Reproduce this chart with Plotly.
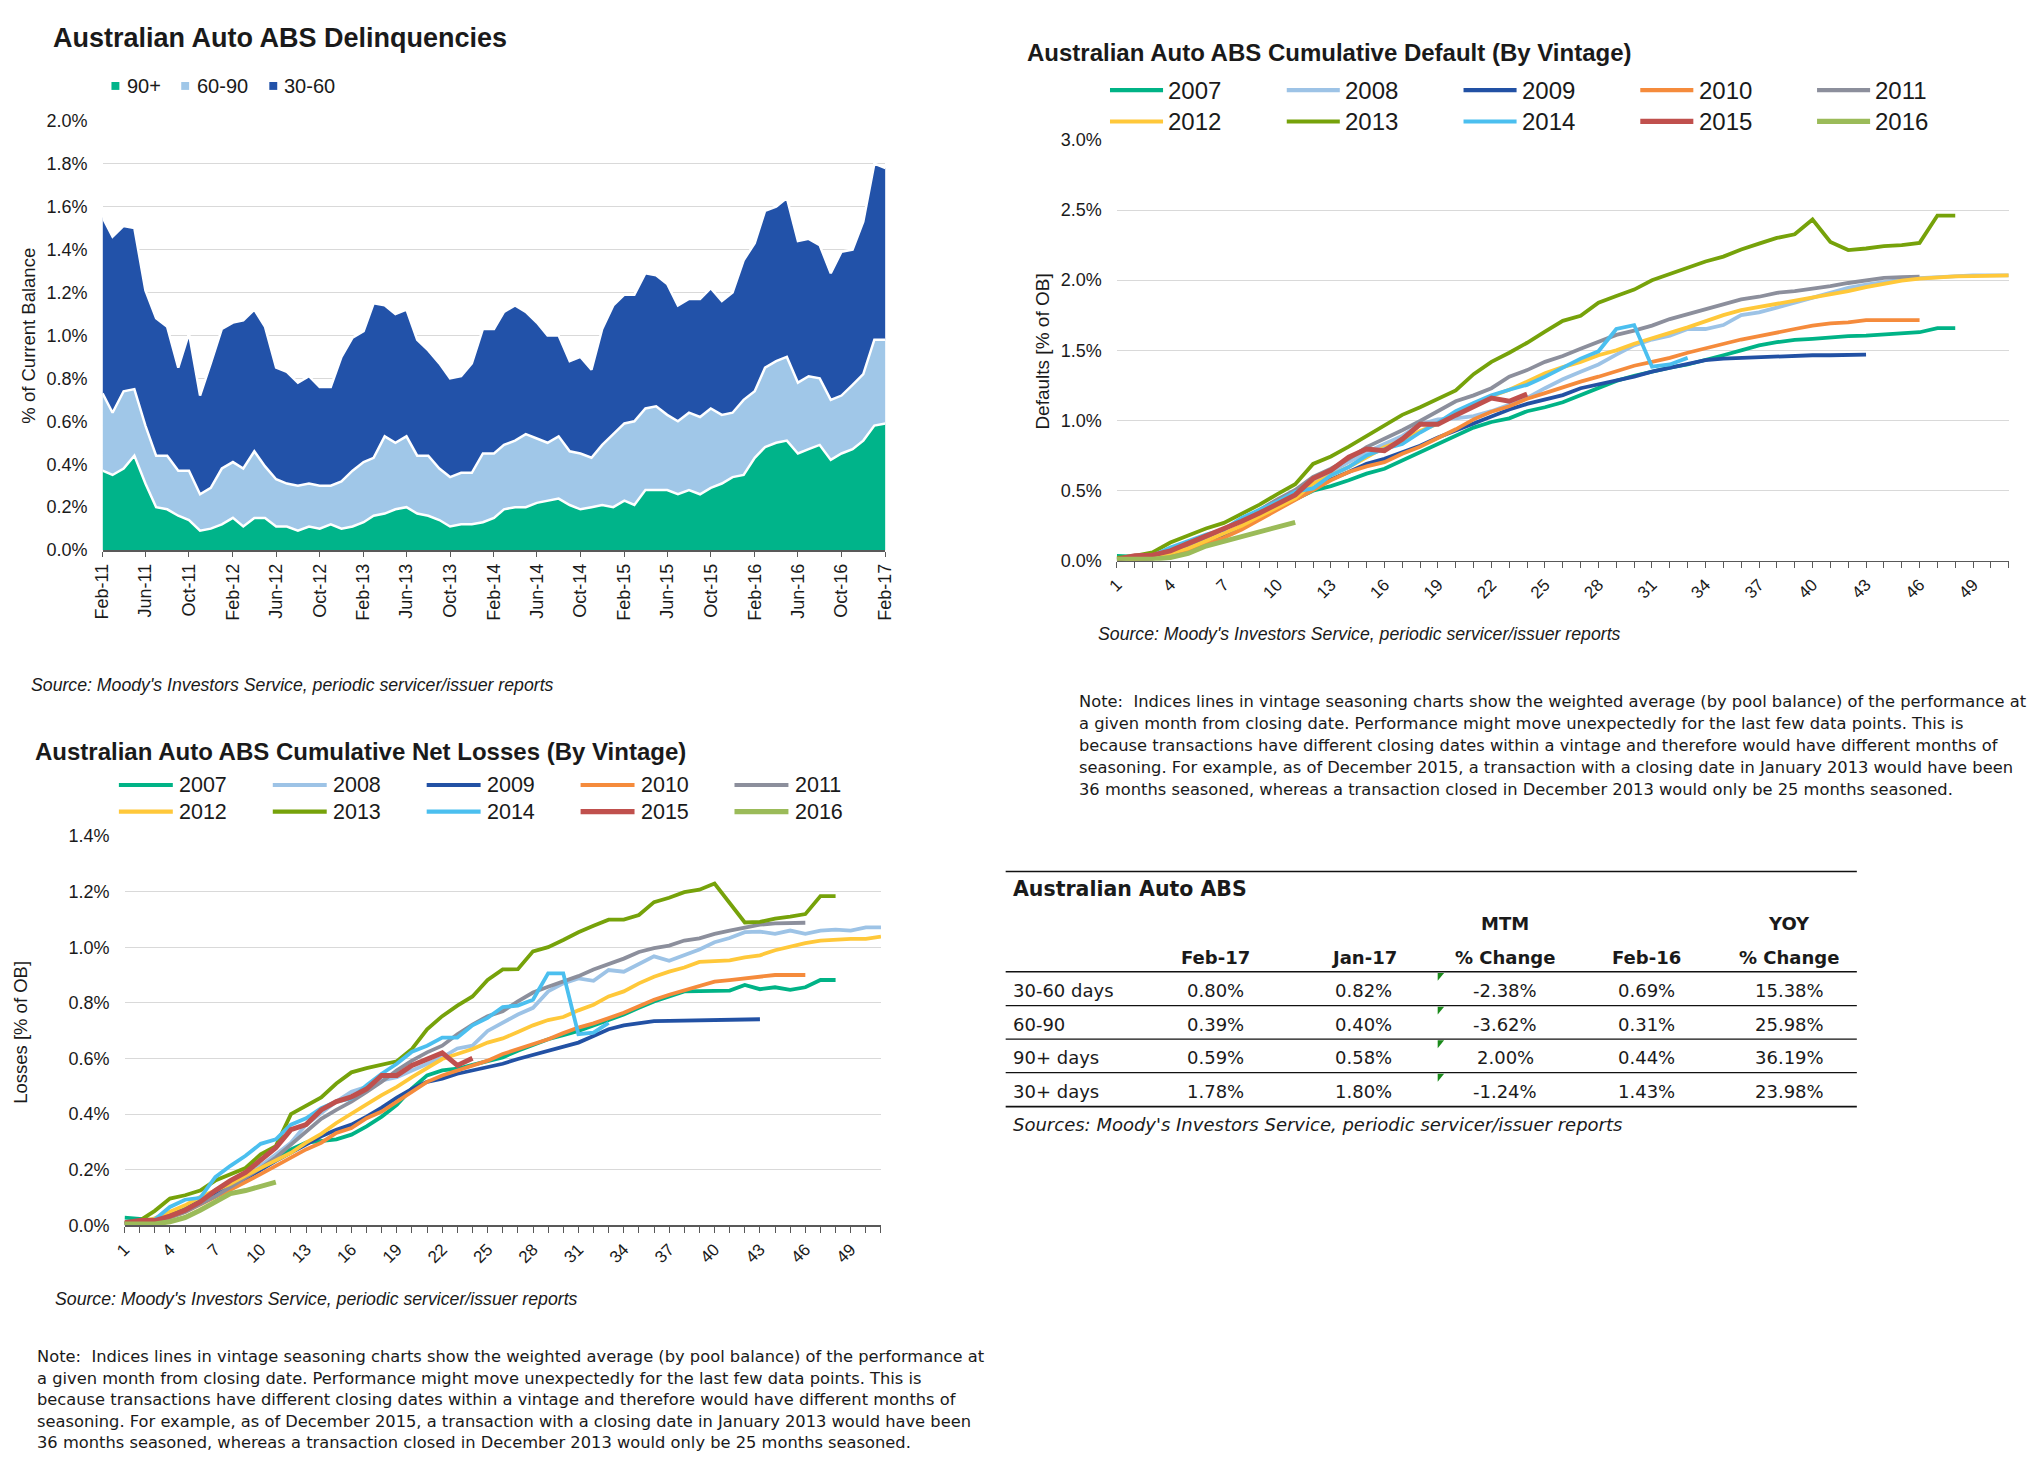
import plotly.graph_objects as go
import pandas as pd

W, H = 2044, 1477


def X(px):
    return px / W


def Y(py):
    return 1 - py / H


ARIAL = "Liberation Sans, Arial, sans-serif"
TAHOMA = "DejaVu Sans, Verdana, sans-serif"
TXT = "#1a1a1a"
GRID = "#d9d9d9"
AXL = "#595959"

months = pd.date_range("2011-02-01", "2017-02-01", freq="MS")
dq_90 = [0.37, 0.35, 0.38, 0.44, 0.31, 0.20, 0.19, 0.16, 0.14, 0.09,
         0.10, 0.12, 0.15, 0.11, 0.15, 0.15, 0.11, 0.11, 0.09, 0.11,
         0.10, 0.12, 0.10, 0.11, 0.13, 0.16, 0.17, 0.19, 0.20, 0.17,
         0.16, 0.14, 0.11, 0.12, 0.12, 0.13, 0.15, 0.19, 0.20, 0.20,
         0.22, 0.23, 0.24, 0.21, 0.19, 0.20, 0.21, 0.20, 0.23, 0.21,
         0.28, 0.28, 0.28, 0.26, 0.28, 0.26, 0.29, 0.31, 0.34, 0.35,
         0.43, 0.48, 0.50, 0.51, 0.45, 0.47, 0.49, 0.42, 0.45, 0.47,
         0.51, 0.58, 0.59]
dq_60_90 = [0.36, 0.29, 0.36, 0.31, 0.27, 0.24, 0.25, 0.21, 0.23, 0.17,
            0.19, 0.26, 0.26, 0.27, 0.31, 0.24, 0.22, 0.20, 0.21, 0.20,
            0.20, 0.18, 0.22, 0.26, 0.28, 0.27, 0.36, 0.31, 0.33, 0.27,
            0.28, 0.24, 0.23, 0.24, 0.24, 0.32, 0.30, 0.30, 0.31, 0.34,
            0.30, 0.27, 0.29, 0.25, 0.26, 0.23, 0.28, 0.34, 0.36, 0.39,
            0.38, 0.39, 0.35, 0.34, 0.36, 0.36, 0.37, 0.32, 0.30, 0.35,
            0.31, 0.37, 0.38, 0.39, 0.33, 0.34, 0.31, 0.28, 0.27, 0.30,
            0.31, 0.40, 0.39]
dq_30_60 = [0.82, 0.82, 0.77, 0.75, 0.63, 0.64, 0.60, 0.48, 0.64, 0.46,
            0.58, 0.65, 0.65, 0.69, 0.66, 0.65, 0.52, 0.52, 0.48, 0.50,
            0.46, 0.46, 0.58, 0.62, 0.61, 0.72, 0.61, 0.60, 0.59, 0.54,
            0.49, 0.49, 0.46, 0.45, 0.51, 0.58, 0.58, 0.62, 0.63, 0.57,
            0.54, 0.50, 0.47, 0.42, 0.45, 0.41, 0.54, 0.60, 0.60, 0.59,
            0.63, 0.61, 0.61, 0.54, 0.53, 0.55, 0.56, 0.53, 0.56, 0.65,
            0.69, 0.73, 0.72, 0.74, 0.66, 0.64, 0.62, 0.59, 0.67, 0.63,
            0.71, 0.82, 0.80]
dq_names = ["90+", "60-90", "30-60"]
dq_colors = ["#00B48A", "#A0C7E8", "#2252A9"]

seasoning = list(range(1, 52))
vintages = ["2007", "2008", "2009", "2010", "2011", "2012", "2013", "2014", "2015", "2016"]
vint_colors = ["#00B386", "#9DC3E6", "#2251A4", "#F58B3C", "#8C8F9C",
               "#FFC83A", "#76A20A", "#4BBFEF", "#C0504D", "#9BBB59"]
vint_widths = [3.8, 3.8, 3.8, 3.8, 3.8, 3.8, 3.8, 3.8, 5, 5]

def_2007 = [0.035, 0.03, 0.023, 0.035, 0.075, 0.124, 0.176, 0.234, 0.305, 0.375,
            0.438, 0.499, 0.532, 0.574, 0.621, 0.656, 0.715, 0.773, 0.832, 0.89,
            0.949, 0.989, 1.015, 1.066, 1.094, 1.13, 1.183, 1.23, 1.282, 1.319,
            1.348, 1.376, 1.399, 1.43, 1.465, 1.50, 1.535, 1.558, 1.575, 1.582,
            1.594, 1.601, 1.605, 1.612, 1.617, 1.629, 1.659, 1.659]
def_2008 = [0.007, 0.01, 0.016, 0.035, 0.07, 0.124, 0.18, 0.246, 0.316, 0.387,
            0.457, 0.55, 0.633, 0.703, 0.773, 0.832, 0.89, 0.973, 1.008, 1.015,
            1.031, 1.066, 1.113, 1.16, 1.23, 1.294, 1.348, 1.399, 1.469, 1.535,
            1.577, 1.605, 1.652, 1.652, 1.68, 1.751, 1.77, 1.805, 1.84, 1.882,
            1.915, 1.945, 1.969, 1.987, 2.004, 2.015, 2.022, 2.029, 2.034, 2.034, 2.034]
def_2009 = [0.007, 0.01, 0.016, 0.047, 0.087, 0.134, 0.187, 0.246, 0.316, 0.387,
            0.452, 0.516, 0.579, 0.633, 0.691, 0.726, 0.773, 0.82, 0.879, 0.93,
            0.977, 1.031, 1.078, 1.118, 1.148, 1.181, 1.23, 1.258, 1.289, 1.312,
            1.348, 1.376, 1.406, 1.43, 1.441, 1.446, 1.453, 1.458, 1.46, 1.465,
            1.465, 1.467, 1.469]
def_2010 = [0.007, 0.01, 0.016, 0.035, 0.07, 0.117, 0.164, 0.223, 0.293, 0.363,
            0.429, 0.504, 0.574, 0.633, 0.673, 0.703, 0.762, 0.813, 0.874, 0.937,
            1.008, 1.062, 1.101, 1.155, 1.195, 1.238, 1.277, 1.312, 1.348, 1.39,
            1.418, 1.446, 1.483, 1.516, 1.547, 1.577, 1.601, 1.629, 1.652, 1.676,
            1.692, 1.699, 1.716, 1.716, 1.716, 1.716]
def_2011 = [0.01, 0.015, 0.02, 0.06, 0.105, 0.164, 0.227, 0.29, 0.363, 0.438,
            0.504, 0.598, 0.656, 0.726, 0.81, 0.867, 0.93, 0.996, 1.066, 1.137,
            1.179, 1.23, 1.312, 1.359, 1.418, 1.46, 1.512, 1.558, 1.61, 1.64,
            1.676, 1.723, 1.758, 1.793, 1.823, 1.863, 1.882, 1.91, 1.922, 1.938,
            1.957, 1.98, 1.999, 2.016, 2.022, 2.025]
def_2012 = [0.01, 0.012, 0.02, 0.054, 0.087, 0.14, 0.195, 0.25, 0.316, 0.382,
            0.445, 0.55, 0.609, 0.668, 0.738, 0.809, 0.855, 0.926, 0.977, 1.043,
            1.101, 1.172, 1.219, 1.277, 1.336, 1.38, 1.418, 1.465, 1.50, 1.547,
            1.582, 1.624, 1.664, 1.711, 1.751, 1.786, 1.809, 1.833, 1.851, 1.875,
            1.898, 1.922, 1.95, 1.976, 1.997, 2.011, 2.02, 2.027, 2.029, 2.034, 2.034]
def_2013 = [0.02, 0.035, 0.06, 0.13, 0.18, 0.23, 0.27, 0.335, 0.40, 0.475,
            0.546, 0.69, 0.743, 0.813, 0.89, 0.96, 1.04, 1.094, 1.155, 1.214,
            1.33, 1.418, 1.483, 1.554, 1.633, 1.71, 1.746, 1.84, 1.887, 1.933,
            1.999, 2.044, 2.086, 2.133, 2.168, 2.219, 2.261, 2.301, 2.327, 2.433,
            2.273, 2.215, 2.226, 2.243, 2.25, 2.266, 2.461, 2.461]
def_2014 = [0.01, 0.02, 0.035, 0.094, 0.14, 0.187, 0.223, 0.305, 0.363, 0.422,
            0.492, 0.516, 0.609, 0.668, 0.75, 0.797, 0.832, 0.914, 0.984, 1.066,
            1.125, 1.179, 1.219, 1.254, 1.312, 1.38, 1.441, 1.493, 1.652, 1.68,
            1.383, 1.399, 1.446]
def_2015 = [0.01, 0.035, 0.04, 0.07, 0.124, 0.176, 0.223, 0.281, 0.34, 0.40,
            0.469, 0.586, 0.645, 0.738, 0.797, 0.785, 0.867, 0.973, 0.973, 1.038,
            1.101, 1.16, 1.137, 1.188]
def_2016 = [0.01, 0.01, 0.01, 0.023, 0.052, 0.105, 0.14, 0.176, 0.204, 0.241, 0.274]
default_series = [def_2007, def_2008, def_2009, def_2010, def_2011,
                  def_2012, def_2013, def_2014, def_2015, def_2016]

loss_2007 = [0.028, 0.024, 0.019, 0.037, 0.06, 0.087, 0.116, 0.149, 0.184, 0.214,
             0.244, 0.273, 0.297, 0.303, 0.309, 0.326, 0.356, 0.391, 0.433, 0.492,
             0.539, 0.557, 0.563, 0.577, 0.592, 0.604, 0.628, 0.648, 0.669, 0.684,
             0.699, 0.719, 0.738, 0.758, 0.782, 0.805, 0.823, 0.841, 0.842, 0.844,
             0.844, 0.864, 0.849, 0.856, 0.847, 0.856, 0.882, 0.882]
loss_2008 = [0.007, 0.009, 0.017, 0.031, 0.054, 0.08, 0.114, 0.147, 0.179, 0.214,
             0.255, 0.297, 0.362, 0.403, 0.445, 0.48, 0.498, 0.521, 0.533, 0.557,
             0.581, 0.604, 0.636, 0.646, 0.699, 0.728, 0.758, 0.782, 0.841, 0.87,
             0.888, 0.879, 0.918, 0.912, 0.939, 0.967, 0.951, 0.971, 0.992, 1.018,
             1.033, 1.054, 1.056, 1.048, 1.06, 1.048, 1.06, 1.063, 1.06, 1.071, 1.071]
loss_2009 = [0.005, 0.007, 0.013, 0.031, 0.054, 0.08, 0.108, 0.137, 0.167, 0.199,
             0.232, 0.261, 0.291, 0.32, 0.344, 0.362, 0.391, 0.423, 0.459, 0.49,
             0.516, 0.527, 0.545, 0.557, 0.569, 0.581, 0.598, 0.613, 0.628, 0.64,
             0.657, 0.681, 0.705, 0.719, 0.728, 0.734, 0.735, 0.736, 0.738, 0.738,
             0.739, 0.740, 0.741]
loss_2010 = [0.005, 0.007, 0.013, 0.028, 0.048, 0.076, 0.102, 0.128, 0.155, 0.184,
             0.214, 0.244, 0.273, 0.297, 0.332, 0.35, 0.385, 0.409, 0.445, 0.48,
             0.516, 0.539, 0.557, 0.577, 0.592, 0.616, 0.634, 0.652, 0.669, 0.691,
             0.711, 0.726, 0.746, 0.764, 0.788, 0.811, 0.829, 0.844, 0.861, 0.876,
             0.882, 0.888, 0.896, 0.9, 0.9, 0.9]
loss_2011 = [0.005, 0.007, 0.013, 0.028, 0.048, 0.076, 0.104, 0.137, 0.17, 0.206,
             0.244, 0.291, 0.338, 0.383, 0.415, 0.445, 0.48, 0.516, 0.557, 0.592,
             0.622, 0.646, 0.687, 0.722, 0.752, 0.77, 0.805, 0.837, 0.858, 0.876,
             0.896, 0.92, 0.939, 0.959, 0.983, 0.997, 1.006, 1.024, 1.032, 1.048,
             1.06, 1.071, 1.081, 1.086, 1.088, 1.088]
loss_2012 = [0.009, 0.013, 0.025, 0.048, 0.072, 0.102, 0.125, 0.149, 0.179, 0.206,
             0.232, 0.261, 0.297, 0.329, 0.368, 0.403, 0.435, 0.468, 0.498, 0.533,
             0.565, 0.598, 0.616, 0.634, 0.657, 0.672, 0.695, 0.719, 0.738, 0.749,
             0.773, 0.793, 0.823, 0.841, 0.87, 0.894, 0.912, 0.927, 0.947, 0.951,
             0.953, 0.963, 0.971, 0.989, 1.003, 1.015, 1.024, 1.028, 1.03, 1.03, 1.038]
loss_2013 = [0.009, 0.017, 0.052, 0.096, 0.108, 0.125, 0.161, 0.184, 0.206, 0.255,
             0.285, 0.40, 0.43, 0.46, 0.51, 0.55, 0.565, 0.577, 0.59, 0.634,
             0.705, 0.752, 0.79, 0.823, 0.882, 0.92, 0.921, 0.985, 1.0, 1.026,
             1.054, 1.077, 1.099, 1.099, 1.116, 1.162, 1.178, 1.198, 1.207, 1.229,
             1.16, 1.089, 1.091, 1.103, 1.11, 1.119, 1.184, 1.184]
loss_2014 = [0.009, 0.013, 0.021, 0.066, 0.092, 0.099, 0.173, 0.214, 0.25, 0.293,
             0.309, 0.362, 0.385, 0.421, 0.445, 0.456, 0.504, 0.545, 0.581, 0.624,
             0.646, 0.675, 0.675, 0.719, 0.746, 0.785, 0.79, 0.811, 0.906, 0.906,
             0.687, 0.693, 0.728]
loss_2015 = [0.009, 0.017, 0.017, 0.033, 0.054, 0.084, 0.125, 0.161, 0.19, 0.232,
             0.279, 0.344, 0.362, 0.415, 0.445, 0.462, 0.49, 0.539, 0.539, 0.575,
             0.598, 0.62, 0.575, 0.601]
loss_2016 = [0.005, 0.005, 0.005, 0.013, 0.028, 0.054, 0.084, 0.114, 0.125, 0.14, 0.155]
loss_series = [loss_2007, loss_2008, loss_2009, loss_2010, loss_2011,
               loss_2012, loss_2013, loss_2014, loss_2015, loss_2016]

tbl_rows = ["30-60 days", "60-90", "90+ days", "30+ days"]
tbl_feb17 = [0.80, 0.39, 0.59, 1.78]
tbl_jan17 = [0.82, 0.40, 0.58, 1.80]
tbl_mtm = [-2.38, -3.62, 2.00, -1.24]
tbl_feb16 = [0.69, 0.31, 0.44, 1.43]
tbl_yoy = [15.38, 25.98, 36.19, 23.98]

NOTE_LINES = [
    "Note:\u00a0 Indices lines in vintage seasoning charts show the weighted average (by pool balance) of the performance at",
    "a given month from closing date. Performance might move unexpectedly for the last few data points. This is",
    "because transactions have different closing dates within a vintage and therefore would have different months of",
    "seasoning. For example, as of December 2015, a transaction with a closing date in January 2013 would have been",
    "36 months seasoned, whereas a transaction closed in December 2013 would only be 25 months seasoned.",
]
SOURCE = "Source: Moody's Investors Service, periodic servicer/issuer reports"

fig = go.Figure()

for name, vals, col in zip(dq_names, [dq_90, dq_60_90, dq_30_60], dq_colors):
    fig.add_trace(go.Scatter(x=months, y=vals, name=name, stackgroup="dq", mode="lines",
                             line=dict(color="white", width=2.5), fillcolor=col,
                             xaxis="x", yaxis="y", showlegend=False, hoverinfo="skip"))

for v, col, w, vals in zip(vintages, vint_colors, vint_widths, default_series):
    fig.add_trace(go.Scatter(x=seasoning[:len(vals)], y=vals, name=v, mode="lines",
                             line=dict(color=col, width=w), xaxis="x2", yaxis="y2",
                             showlegend=False, hoverinfo="skip"))

for v, col, w, vals in zip(vintages, vint_colors, vint_widths, loss_series):
    fig.add_trace(go.Scatter(x=seasoning[:len(vals)], y=vals, name=v, mode="lines",
                             line=dict(color=col, width=w), xaxis="x3", yaxis="y3",
                             showlegend=False, hoverinfo="skip"))

tickfont = dict(family=ARIAL, size=18, color=TXT)


def yax(dom, rng, dt):
    return dict(domain=dom, range=rng, dtick=dt, tick0=0, tickformat=".1f", ticksuffix="%",
                showgrid=True, gridcolor=GRID, gridwidth=1, zeroline=False, showline=False,
                ticks="", tickfont=tickfont, ticklabelstandoff=14, fixedrange=True)


def xcat(dom, anchor):
    return dict(domain=dom, anchor=anchor, range=[1, 51], tick0=1, dtick=3, tickangle=-45,
                ticks="outside", ticklen=6, tickcolor=AXL, tickwidth=1,
                minor=dict(dtick=1, tick0=1, ticks="outside", ticklen=6, tickcolor=AXL,
                           tickwidth=1, showgrid=False),
                showline=True, linecolor=AXL, linewidth=1.5, showgrid=False, zeroline=False,
                tickfont=dict(family=ARIAL, size=17, color=TXT), fixedrange=True)


layout = dict(
    width=W, height=H, margin=dict(l=0, r=0, t=0, b=0, pad=0),
    paper_bgcolor="white", plot_bgcolor="white", showlegend=False,
    xaxis=dict(domain=[X(92.5), X(883.5)], anchor="y", type="date",
               range=[months[0], months[-1]], tick0="2011-02-01", dtick="M4",
               tickformat="%b-%y", tickangle=-90, ticks="outside", ticklen=5,
               tickcolor=AXL, showline=True, linecolor=AXL, linewidth=1.5,
               showgrid=False, zeroline=False, tickfont=tickfont, fixedrange=True),
    yaxis=yax([Y(547.5), Y(112.3)], [0, 2.0], 0.2),
    xaxis2=xcat([X(1117.3), X(2018.5)], "y2"),
    yaxis2=dict(yax([Y(558.3), Y(131.7)], [0, 3.0], 0.5), anchor="x2"),
    xaxis3=xcat([X(114.7), X(879)], "y3"),
    yaxis3=dict(yax([Y(1232), Y(837.3)], [0, 1.4], 0.2), anchor="x3"),
)
layout["yaxis"]["anchor"] = "x"

ann = []
shp = []


def text(px, py, s, size, family=ARIAL, xanchor="left", angle=0, color=TXT):
    ann.append(dict(x=X(px), y=Y(py), xref="paper", yref="paper", text=s, showarrow=False,
                    xanchor=xanchor, yanchor="middle", textangle=angle,
                    font=dict(family=family, size=size, color=color)))


# chart titles
text(40.4, 28.5, "<b>Australian Auto ABS Delinquencies</b>", 27)
text(1025, 43, "<b>Australian Auto ABS Cumulative Default (By Vintage)</b>", 24)
text(22, 752, "<b>Australian Auto ABS Cumulative Net Losses (By Vintage)</b>", 24)

# axis titles
text(17.3, 330, "% of Current Balance", 18.5, xanchor="center", angle=-90)
text(1042, 346, "Defaults [% of OB]", 19, xanchor="center", angle=-90)
text(10, 1036, "Losses [% of OB]", 18.5, xanchor="center", angle=-90)

# delinquency legend
for name, col, mx, tx in zip(dq_names, dq_colors, [105.5, 176, 265], [115, 185.7, 274]):
    shp.append(dict(type="rect", xref="paper", yref="paper", x0=X(mx - 4), x1=X(mx + 4),
                    y0=Y(81), y1=Y(73), fillcolor=col, line=dict(width=0)))
    text(tx, 77, name, 20)


def vint_legend(col_x, row_y, llen, tgap, size):
    for i, (v, col, w) in enumerate(zip(vintages, vint_colors, vint_widths)):
        cx = col_x[i % 5]
        ry = row_y[i // 5]
        shp.append(dict(type="line", xref="paper", yref="paper", x0=X(cx), x1=X(cx + llen),
                        y0=Y(ry), y1=Y(ry), line=dict(color=col, width=w + 0.3)))
        text(cx + tgap, ry, v, size)


vint_legend([1110.4, 1289, 1467.6, 1646.2, 1824.8], [81.2, 113], 53.6, 57, 24)
vint_legend([109, 264.5, 420, 575.5, 731], [785.6, 812.6], 54.5, 59, 21.5)

# sources
text(18, 684, "<i>" + SOURCE + "</i>", 17.7)
text(1096, 633, "<i>" + SOURCE + "</i>", 17.7)
text(42, 1307, "<i>" + SOURCE + "</i>", 17.7)

# notes
for i, line in enumerate(NOTE_LINES):
    text(1077, 700.7 + 22.5 * i, line, 16.3, family=TAHOMA)
    text(24, 1365 + 21.9 * i, line, 16.3, family=TAHOMA)

# summary table
TL, TR = 1005, 1865
for ly, lw in [(873.3, 1.6), (975, 1.6), (1009.3, 1.3), (1043.3, 1.3), (1077.3, 1.3), (1111.7, 1.6)]:
    shp.append(dict(type="line", xref="paper", yref="paper", x0=X(TL), x1=X(TR),
                    y0=Y(ly), y1=Y(ly), line=dict(color="#111111", width=lw)))
text(1010, 891, "<b>Australian Auto ABS</b>", 20.5, family=TAHOMA)
col_x = [1217.5, 1366.8, 1510, 1652.6, 1796.5]
text(col_x[2], 925.7, "<b>MTM</b>", 18, family=TAHOMA, xanchor="center")
text(col_x[4], 925.7, "<b>YOY</b>", 18, family=TAHOMA, xanchor="center")
for cx, h in zip(col_x, ["Feb-17", "Jan-17", "% Change", "Feb-16", "% Change"]):
    text(cx, 960, "<b>" + h + "</b>", 18, family=TAHOMA, xanchor="center")
row_y = [994.3, 1028.3, 1062.3, 1096]
for r, ry in enumerate(row_y):
    text(1010, ry, tbl_rows[r], 18, family=TAHOMA)
    vals = [tbl_feb17[r], tbl_jan17[r], tbl_mtm[r], tbl_feb16[r], tbl_yoy[r]]
    for cx, v in zip(col_x, vals):
        text(cx, ry, f"{v:.2f}%", 18, family=TAHOMA, xanchor="center")
for top in [976.2, 1010.4, 1044.4, 1078.4]:
    shp.append(dict(type="path", xref="paper", yref="paper",
                    path=f"M {X(1441.5)},{Y(top)} L {X(1448)},{Y(top)} L {X(1441.5)},{Y(top + 8)} Z",
                    fillcolor="#1a8a1a", line=dict(width=0)))
text(1010, 1130, "<i>Sources: Moody's Investors Service, periodic servicer/issuer reports</i>", 18,
     family=TAHOMA)

layout["annotations"] = ann
layout["shapes"] = shp
fig.update_layout(**layout)

MARGIN_JS = ("document.documentElement.style.margin='0';document.documentElement.style.padding='0';"
             "document.body.style.margin='0';document.body.style.padding='0';"
             "document.body.style.overflow='hidden';")
post = MARGIN_JS + "});" + MARGIN_JS + "(function(){"

fig.write_html("out.html", config={"displayModeBar": False, "staticPlot": True},
               post_script=post)
